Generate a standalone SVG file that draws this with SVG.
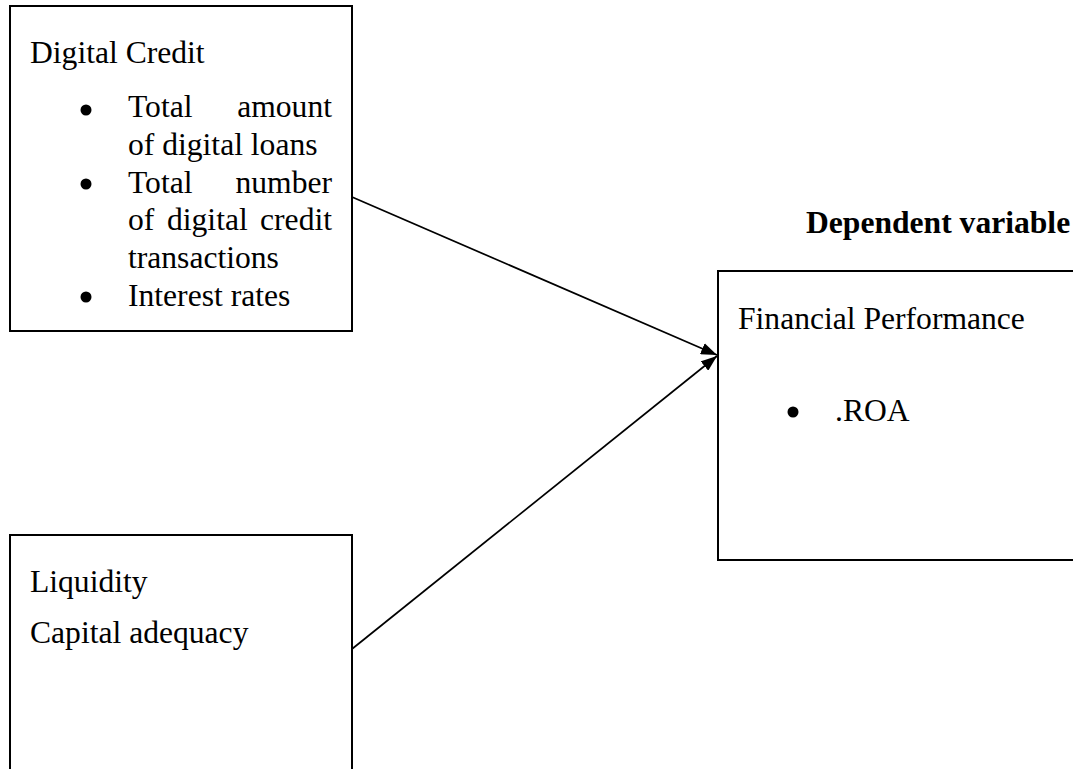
<svg xmlns="http://www.w3.org/2000/svg" width="1073" height="769" viewBox="0 0 1073 769">
<style>
.box{fill:#fff;stroke:#000;stroke-width:2}
.t{font-family:"Liberation Serif","Times New Roman",serif;font-size:31.6px;fill:#000}
.b{font-weight:bold}
.conn{stroke:#000;stroke-width:1.7;fill:none}
</style>
<defs>
<marker id="ah" viewBox="0 0 16 12" refX="16" refY="6" markerWidth="16" markerHeight="12" markerUnits="userSpaceOnUse" orient="auto">
<path d="M0,0 L16,6 L0,12 z" fill="#000"/>
</marker>
</defs>
<rect width="1073" height="769" fill="#fff"/>
<g id="digital-credit">
<rect class="box" x="10" y="6" width="342" height="325"/>
<text class="t" x="30" y="63">Digital Credit</text>
<circle cx="86" cy="110" r="5.5"/>
<text class="t" x="128" y="117">Total</text>
<text class="t" x="332" y="117" text-anchor="end">amount</text>
<text class="t" x="128" y="155">of digital loans</text>
<circle cx="86" cy="184" r="5.5"/>
<text class="t" x="128" y="193">Total</text>
<text class="t" x="332" y="193" text-anchor="end">number</text>
<text class="t" x="128" y="230">of</text>
<text class="t" x="167" y="230">digital</text>
<text class="t" x="332" y="230" text-anchor="end">credit</text>
<text class="t" x="128" y="268">transactions</text>
<circle cx="86" cy="297" r="5.5"/>
<text class="t" x="128" y="306">Interest rates</text>
</g>
<g id="control">
<rect class="box" x="10" y="535" width="342" height="260"/>
<text class="t" x="30" y="592">Liquidity</text>
<text class="t" x="30" y="643">Capital adequacy</text>
</g>
<g id="dependent-label">
<text class="t b" x="806" y="233">Dependent variable</text>
</g>
<g id="financial-performance">
<rect class="box" x="718" y="271" width="380" height="289"/>
<text class="t" x="738" y="329">Financial Performance</text>
<circle cx="793" cy="412" r="5.5"/>
<text class="t" x="835" y="421">.ROA</text>
</g>
<g id="connectors">
<line class="conn" x1="352" y1="197" x2="717" y2="355" marker-end="url(#ah)"/>
<line class="conn" x1="352" y1="649" x2="717" y2="356" marker-end="url(#ah)"/>
</g>
</svg>
